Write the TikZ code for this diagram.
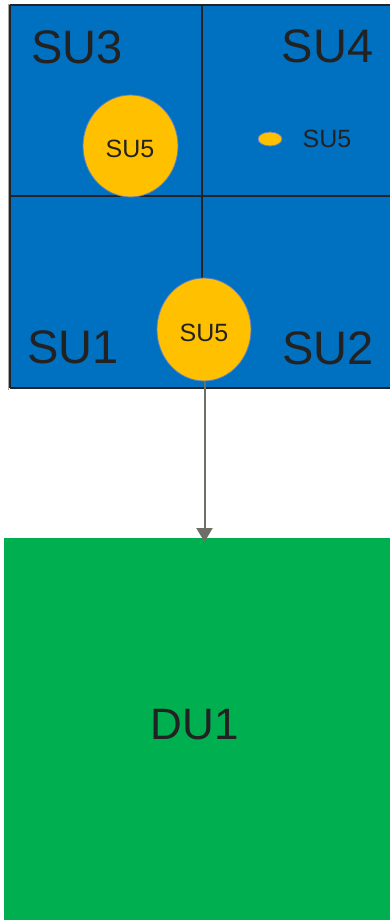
\documentclass[tikz,border=0pt]{standalone}
\usepackage{fontspec}
\setmainfont{Liberation Sans}
\usetikzlibrary{arrows.meta,shapes.geometric}
\definecolor{sublue}{HTML}{0070C0}
\definecolor{suyellow}{HTML}{FFC000}
\definecolor{dugreen}{HTML}{00B050}
\definecolor{txt}{HTML}{222222}
\definecolor{edge}{HTML}{202428}
\definecolor{arrowgray}{HTML}{6E6E66}
\definecolor{ringblue}{HTML}{5B7FC8}
\tikzset{
  biglabel/.style={text=txt, font=\fontsize{47}{52}\selectfont, inner sep=0pt},
  smalllabel/.style={text=txt, font=\fontsize{25}{29}\selectfont, inner sep=0pt},
  suell/.style={ellipse, fill=suyellow, draw=ringblue, line width=0.8pt, inner sep=0pt},
  divider/.style={draw=edge, line width=2pt},
}
\begin{document}
\begin{tikzpicture}[x=1pt,y=-1pt]
\useasboundingbox (0,0) rectangle (389,920);
% blue square
\fill[sublue] (9,5) rectangle (395,388);
\draw[draw=gray!70, line width=0.6pt] (8,4) -- (395,4);
\draw[draw=gray!70, line width=0.6pt] (8,4) -- (8,389.5);
\draw[divider] (9.5,5.5) -- (395,5.5);
\draw[divider] (9.5,5.5) -- (9.5,388);
\draw[divider] (9.5,388) -- (395,388);
\draw[divider] (9,196) -- (395,196);
\coordinate (vtop) at (202,5);
\coordinate (vbot) at (202,280);
\draw[divider] (vtop) -- (vbot);
% green box
\node[fill=dugreen, minimum width=390pt, minimum height=385pt, inner sep=0pt, anchor=north west] (du) at (4,538) {};
\node[biglabel, font=\fontsize{44}{50}\selectfont] (du1) at (194.5,724.5) {DU1};
% ellipses
\node[suell, minimum width=95pt, minimum height=102pt] (c3) at (130.5,146) {};
\node[smalllabel] (l3) at (130,149) {SU5};
\node[suell, minimum width=24pt, minimum height=14pt] (c4) at (270,139) {};
\node[smalllabel] (l4) at (327,139) {SU5};
\node[suell, minimum width=94pt, minimum height=103pt] (c1) at (204,329.5) {};
\node[smalllabel] (l1) at (204,333) {SU5};
% big labels
\node[biglabel] (su3) at (77,47) {SU3};
\node[biglabel] (su4) at (327.5,46) {SU4};
\node[biglabel] (su1) at (73,347.5) {SU1};
\node[biglabel] (su2) at (328,348) {SU2};
% arrow
\draw[draw=arrowgray, line width=2pt, -{Triangle[length=14pt,width=16pt]}] ([xshift=0.5pt]c1.south) -- ([xshift=0.5pt,yshift=-4pt]du.north -| c1.south);
\end{tikzpicture}
\end{document}
